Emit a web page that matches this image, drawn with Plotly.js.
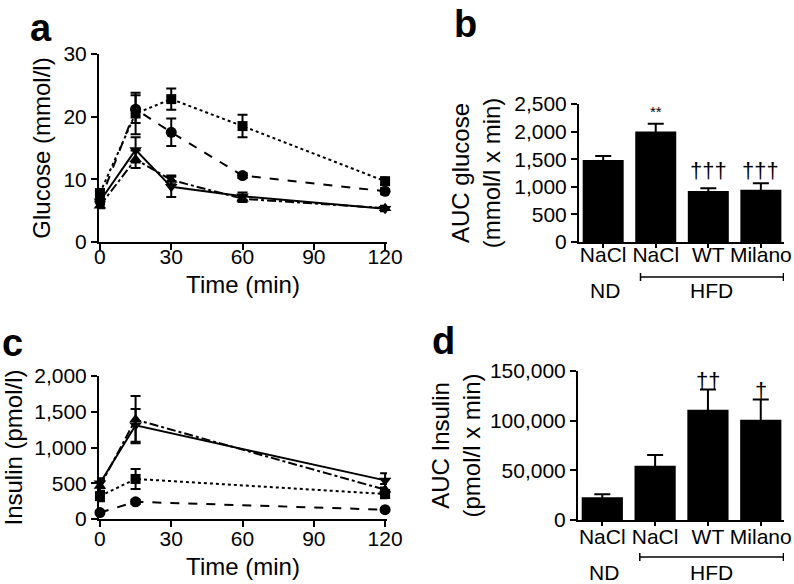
<!DOCTYPE html>
<html>
<head>
<meta charset="utf-8">
<script src="https://cdn.plot.ly/plotly-3.0.1.min.js"></script>
<style>html,body{margin:0;padding:0;background:#fff;}#chart{width:794px;height:584px;}</style>
</head>
<body>
<div id="chart"></div>
<script>
// ---------- data ----------
const time = [0, 15, 30, 60, 120];
const timeIns = [0, 15, 120];
const timeTicks = [0, 30, 60, 90, 120];

// Glucose (mmol/l)
const gluND = [6.5, 21.2, 17.5, 10.6, 8.1];
const gluNDErr = [0.5, 2.2, 2.2, 0.4, 0.5];
const gluHFD = [7.8, 20.5, 22.8, 18.5, 9.7];
const gluHFDErr = [0.6, 3.3, 1.7, 1.8, 0.6];
const gluWT = [5.8, 13.2, 9.9, 6.9, 5.4];
const gluWTErr = [0.4, 1.4, 0.7, 0.5, 0.4];
const gluMilano = [6.5, 14.7, 8.8, 7.3, 5.3];
const gluMilanoErr = [0.5, 2.0, 1.6, 0.6, 0.4];

// Insulin (pmol/l)
const insND = [90, 240, 130];
const insNDErr = [20, 30, 20];
const insHFD = [320, 560, 350];
const insHFDErr = [70, 140, 60];
const insWT = [460, 1390, 410];
const insWTErr = [80, 330, 80];
const insMilano = [500, 1310, 540];
const insMilanoErr = [70, 230, 100];

// AUC
const barLabels = ['NaCl', 'NaCl', 'WT', 'Milano'];
const aucGlu = [1485, 2000, 925, 945];
const aucGluErr = [75, 140, 48, 120];
const aucIns = [22900, 54600, 111000, 101000];
const aucInsErr = [3000, 10800, 20500, 20400];
const gluSig = ['', '**', '†††', '†††'];
const insSig = ['', '', '††', '†'];
const groupND = 'ND';
const groupHFD = 'HFD';

// ---------- layout helpers ----------
const W = 794, H = 584;
const xd = (a, b) => [a / W, b / W];
const yd = (top, bot) => [1 - bot / H, 1 - top / H];
const FONT = 'Liberation Sans, Arial, Helvetica, sans-serif';
const barX = barLabels.map((_, i) => i);

function lineTrace(x, y, err, dash, symbol, xa, ya, size) {
  return {
    x: x, y: y, xaxis: xa, yaxis: ya, type: 'scatter', mode: 'lines+markers',
    line: {color: '#000', width: 2, dash: dash},
    marker: {color: '#000', symbol: symbol, size: size},
    error_y: {type: 'data', array: err, visible: true, color: '#000', thickness: 2, width: 5},
    cliponaxis: false, showlegend: false, hoverinfo: 'x+y'
  };
}
function barTrace(y, err, xa, ya) {
  return {
    x: barX, y: y, xaxis: xa, yaxis: ya, type: 'bar', width: 0.78,
    marker: {color: '#000', line: {width: 0}},
    error_y: {type: 'data', array: err, visible: true, color: '#000', thickness: 2, width: 8},
    cliponaxis: false, showlegend: false
  };
}

const data = [
  lineTrace(time, gluHFD, gluHFDErr, 'dot', 'square', 'x', 'y', 10),
  lineTrace(time, gluND, gluNDErr, 'dash', 'circle', 'x', 'y', 11),
  lineTrace(time, gluWT, gluWTErr, 'dashdot', 'triangle-up', 'x', 'y', 11),
  lineTrace(time, gluMilano, gluMilanoErr, 'solid', 'triangle-down', 'x', 'y', 11),
  barTrace(aucGlu, aucGluErr, 'x2', 'y2'),
  lineTrace(timeIns, insHFD, insHFDErr, 'dot', 'square', 'x3', 'y3', 10),
  lineTrace(timeIns, insND, insNDErr, 'dash', 'circle', 'x3', 'y3', 11),
  lineTrace(timeIns, insWT, insWTErr, 'dashdot', 'triangle-up', 'x3', 'y3', 11),
  lineTrace(timeIns, insMilano, insMilanoErr, 'solid', 'triangle-down', 'x3', 'y3', 11),
  barTrace(aucIns, aucInsErr, 'x4', 'y4')
];

const tickFont = {family: FONT, size: 21, color: '#000'};
const titleFont = {family: FONT, size: 24, color: '#000'};
function axBase(extra) {
  return Object.assign({
    showline: true, linewidth: 2, linecolor: '#000', ticks: 'outside', ticklen: 6,
    tickwidth: 2, tickcolor: '#000', showgrid: false, zeroline: false,
    tickfont: tickFont, fixedrange: true
  }, extra);
}

const layout = {
  width: W, height: H, margin: {l: 0, r: 0, t: 0, b: 0},
  paper_bgcolor: '#fff', plot_bgcolor: 'rgba(0,0,0,0)',
  font: {family: FONT, color: '#000'},
  showlegend: false,
  xaxis: axBase({domain: xd(99, 387), range: [-0.4, 120.8], tickvals: timeTicks, anchor: 'y', ticklabelstandoff: -11,
    title: {text: 'Time (min)', font: titleFont, standoff: 9}}),
  yaxis: axBase({domain: yd(54, 242), range: [0, 30], tickvals: [0, 10, 20, 30], anchor: 'x',
    title: {text: 'Glucose (mmol/l)', font: titleFont, standoff: 6}}),
  xaxis2: axBase({domain: xd(579, 784), range: [-0.46, 3.44], tickvals: barX, ticktext: barLabels, anchor: 'y2', ticklen: 4, ticklabelstandoff: -11}),
  yaxis2: axBase({domain: yd(104, 242), range: [0, 2500], tickvals: [0, 500, 1000, 1500, 2000, 2500], tickformat: ',d', anchor: 'x2',
    title: {text: 'AUC glucose<br>(mmol/l x min)', font: titleFont, standoff: 7}}),
  xaxis3: axBase({domain: xd(99, 387), range: [-0.4, 120.8], tickvals: timeTicks, anchor: 'y3', ticklabelstandoff: -6,
    title: {text: 'Time (min)', font: titleFont, standoff: 9}}),
  yaxis3: axBase({domain: yd(376, 519), range: [0, 2000], tickvals: [0, 500, 1000, 1500, 2000], tickformat: ',d', anchor: 'x3',
    title: {text: 'Insulin (pmol/l)', font: titleFont, standoff: 8}}),
  xaxis4: axBase({domain: xd(578, 784), range: [-0.46, 3.44], tickvals: barX, ticktext: barLabels, anchor: 'y4', ticklen: 4, ticklabelstandoff: -7}),
  yaxis4: axBase({domain: yd(371, 520), range: [0, 150000], tickvals: [0, 50000, 100000, 150000], tickformat: ',d', anchor: 'x4',
    title: {text: 'AUC Insulin<br>(pmol/l x min)', font: titleFont, standoff: 2}}),
  shapes: [],
  annotations: []
};

// panel letters
const letters = [['a', 28, 28], ['b', 452, 24], ['c', 0, 343], ['d', 430, 341]];
letters.forEach(([t, x, yc]) => layout.annotations.push({
  text: '<b>' + t + '</b>', xref: 'paper', yref: 'paper', x: x / W, y: 1 - yc / H,
  xanchor: 'left', yanchor: 'middle', showarrow: false, font: {family: FONT, size: 38, color: '#000'}
}));

// significance marks
gluSig.forEach((s, i) => {
  if (!s) return;
  layout.annotations.push({text: s, x: barX[i], y: i === 1 ? aucGlu[i] + aucGluErr[i] : 1070, xref: 'x2', yref: 'y2',
    xanchor: 'center', yanchor: 'bottom', showarrow: false, yshift: i === 1 ? 2 : -2,
    font: {family: FONT, size: i === 1 ? 15 : 22, color: '#000'}});
});
insSig.forEach((s, i) => {
  if (!s) return;
  layout.annotations.push({text: s, x: barX[i], y: aucIns[i] + aucInsErr[i], xref: 'x4', yref: 'y4',
    xanchor: 'center', yanchor: 'bottom', showarrow: false, yshift: -6,
    font: {family: FONT, size: 22, color: '#000'}});
});

// group brackets and labels
function groups(xa, yBracketPx, yLabelPx) {
  const yb = 1 - yBracketPx / H;
  layout.shapes.push({type: 'line', xref: xa, yref: 'paper', x0: 0.71, x1: 3.43, y0: yb, y1: yb, line: {color: '#000', width: 1.5}});
  [0.71, 3.43].forEach(xv => layout.shapes.push({type: 'line', xref: xa, yref: 'paper', x0: xv, x1: xv,
    y0: yb - 4 / H, y1: yb + 4 / H, line: {color: '#000', width: 1.5}}));
  [[groupND, 0.03], [groupHFD, 2.07]].forEach(([t, xv]) => layout.annotations.push({
    text: t, xref: xa, yref: 'paper', x: xv, y: 1 - yLabelPx / H, xanchor: 'center', yanchor: 'middle',
    borderpad: 0, showarrow: false, font: {family: FONT, size: 21, color: '#000'}}));
}
groups('x2', 277, 290);
groups('x4', 557, 572);

Plotly.newPlot('chart', data, layout, {staticPlot: true, displayModeBar: false});
</script>
</body>
</html>
